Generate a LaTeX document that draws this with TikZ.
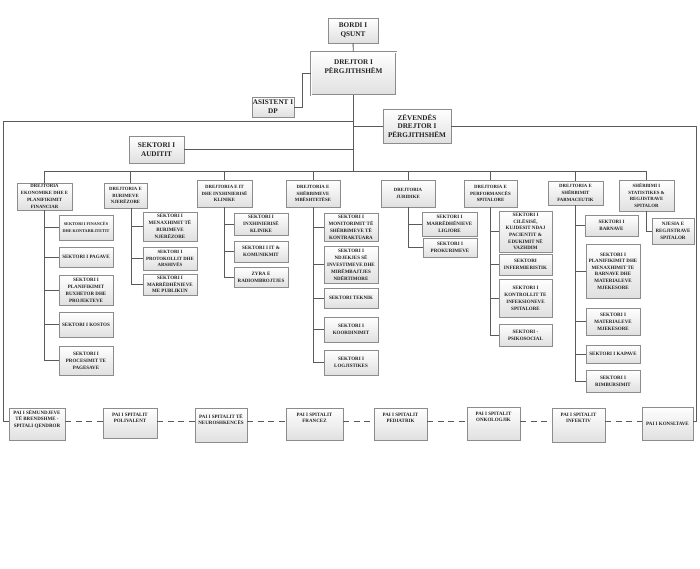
\documentclass[tikz,border=0pt]{standalone}
\usepackage{fontspec}
\setmainfont{Liberation Serif}
\usetikzlibrary{shadows}
\definecolor{linec}{HTML}{5A5A5A}
\definecolor{boxc}{HTML}{8C8C8C}
\definecolor{txtc}{HTML}{222222}
\definecolor{fillb}{HTML}{E0E0E0}
\newcommand{\obox}[7][]{\node[box,#1,minimum width={#5-#3},minimum height={#6-#4}] (#2) at ({(#3+#5)/2},{(#4+#6)/2}) {#7};}
\begin{document}
\begin{tikzpicture}[x=1pt,y=-1pt,
 box/.style={draw=boxc,line width=0.6pt,top color=white,bottom color=fillb,
   drop shadow={shadow xshift=0.9pt,shadow yshift=-0.9pt,opacity=0.3,fill=black},
   align=center,inner sep=0.3pt,text=txtc},
 topf/.style={font=\fontsize{7.2}{9}\selectfont\bfseries},
 dirf/.style={font=\fontsize{4.8}{6.8}\selectfont\bfseries},
 subf/.style={font=\fontsize{5}{7}\selectfont\bfseries},
 subt/.style={font=\fontsize{5}{6.6}\selectfont\bfseries},
 finf/.style={font=\fontsize{4.2}{6.8}\selectfont\bfseries},
 paif/.style={font=\fontsize{5}{6.4}\selectfont\bfseries},
 txtn/.style={align=center,inner sep=0pt,text=txtc},
 conn/.style={draw=linec,line width=0.9pt},
 dconn/.style={conn,dash pattern=on 6pt off 4.5pt},
 drejb/.style={double=white,double distance=0.9pt,line width=0.7pt,draw=boxc}
]
\useasboundingbox[fill=white] (0,0) rectangle (700,568);

% top
\obox[topf]{bordi}{328}{18}{378}{43}{BORDI I\\QSUNT}
\obox[drejb]{drej}{311}{52}{396}{95}{}
\node[txtn,topf,anchor=north] (drejt) at ([yshift=-7.5pt]drej.north) {DREJTOR I\\PËRGJITHSHËM};
\obox[topf]{asis}{252}{97}{294}{117}{ASISTENT I\\DP}
\obox[topf,font=\fontsize{7.2}{8.6}\selectfont\bfseries]{zev}{383}{109}{451}{143}{ZËVENDËS\\DREJTOR I\\PËRGJITHSHËM}
\obox[topf]{aud}{129}{136}{184}{163}{SEKTORI I\\AUDITIT}

% directorates
\obox[dirf]{eko}{17}{183}{72}{210}{DREJTORIA\\EKONOMIKE DHE E\\PLANIFIKIMIT\\FINANCIAR}
\obox[dirf]{bur}{104}{183}{147}{208}{DREJTORIA E\\BURIMEVE\\NJERËZORE}
\obox[dirf]{it}{197}{180}{252}{207}{DREJTORIA E IT\\DHE INXHINIERISË\\KLINIKE}
\obox[dirf]{mbe}{286}{180}{340}{207}{DREJTORIA E\\SHËRBIMEVE\\MBËSHTETËSE}
\obox[dirf]{jur}{381}{180}{435}{207}{DREJTORIA\\JURIDIKE}
\obox[dirf]{per}{464}{180}{517}{207}{DREJTORIA E\\PERFORMANCËS\\SPITALORE}
\obox[dirf]{far}{548}{181}{603}{205}{DREJTORIA E\\SHËRBIMIT\\FARMACEUTIK}
\obox[dirf]{sta}{619}{180}{674}{211}{SHËRBIMI I\\STATISTIKES \&\\REGJISTRAVE\\SPITALOR}

% sectors
\obox[finf]{e1}{59}{215}{113}{240}{SEKTORI I FINANCËS\\DHE KONTABILITETIT}
\obox[subf]{e2}{59}{247}{113}{267}{SEKTORI I PAGAVE}
\obox[subf]{e3}{59}{275}{113}{305}{SEKTORI I\\PLANIFIKIMIT\\BUXHETOR DHE\\PROJEKTEVE}
\obox[subf]{e4}{59}{312}{113}{337}{SEKTORI I KOSTOS}
\obox[subf]{e5}{59}{346}{113}{375}{SEKTORI I\\PROCESIMIT TE\\PAGESAVE}
\obox[subf]{b1}{143}{212}{197}{241}{SEKTORI I\\MENAXHIMIT TË\\BURIMEVE\\NJERËZORE}
\obox[subf,font=\fontsize{4.8}{6.8}\selectfont\bfseries]{b2}{143}{247}{197}{270}{SEKTORI I\\PROTOKOLLIT DHE\\ARSHIVËS}
\obox[subt]{b3}{143}{274}{197}{295}{SEKTORI I\\MARRËDHËNIEVE\\ME PUBLIKUN}
\obox[subf]{i1}{234}{213}{288}{235}{SEKTORI I\\INXHINIERISË\\KLINIKE}
\obox[subf]{i2}{234}{241}{288}{262}{SEKTORI I IT \&\\KOMUNIKMIT}
\obox[subf]{i3}{234}{267}{288}{287}{ZYRA E\\RADIOMBROJTJES}
\obox[subf]{m1}{324}{213}{378}{241}{SEKTORI I\\MONITORIMIT TË\\SHËRBIMEVE TË\\KONTRAKTUARA}
\obox[subf]{m2}{324}{246}{378}{283}{SEKTORI I\\NDJEKJES SË\\INVESTIMEVE DHE\\MIRËMBAJTJES\\NDËRTIMORE}
\obox[subf]{m3}{324}{288}{378}{308}{SEKTORI TEKNIK}
\obox[subf]{m4}{324}{317}{378}{342}{SEKTORI I\\KOORDINIMIT}
\obox[subf]{m5}{324}{350}{378}{375}{SEKTORI I\\LOGJISTIKES}
\obox[subf]{j1}{422}{212}{477}{236}{SEKTORI I\\MARRËDHËNIEVE\\LIGJORE}
\obox[subf]{j2}{423}{238}{477}{257}{SEKTORI I\\PROKURIMEVE}
\obox[subt]{p1}{499}{211}{552}{252}{SEKTORI I\\CILËSISË,\\KUJDESIT NDAJ\\PACIENTIT \&\\EDUKIMIT NË\\VAZHDIM}
\obox[subf]{p2}{499}{254}{552}{275}{SEKTORI\\INFERMIERISTIK}
\obox[subf]{p3}{499}{279}{552}{317}{SEKTORI I\\KONTROLLIT TE\\INFEKSIONEVE\\SPITALORE}
\obox[subf]{p4}{499}{324}{552}{346}{SEKTORI -\\PSIKOSOCIAL}
\obox[subf]{f1}{585}{215}{638}{236}{SEKTORI I\\BARNAVE}
\obox[subt]{f2}{586}{244}{640}{298}{SEKTORI I\\PLANIFIKIMIT DHE\\MENAXHIMIT TE\\BARNAVE DHE\\MATERIALEVE\\MJEKESORE}
\obox[subf]{f3}{586}{308}{640}{335}{SEKTORI I\\MATERIALEVE\\MJEKESORE}
\obox[subf]{f4}{586}{345}{640}{363}{SEKTORI I KAPAVE}
\obox[subf]{f5}{586}{370}{640}{392}{SEKTORI I\\RIMBURSIMIT}
\obox[subf]{n1}{652}{218}{694}{244}{NJESIA E\\REGJISTRAVE\\SPITALOR}

% hospitals
\obox{pa1}{9}{408}{65}{440}{}
\node[txtn,paif,anchor=north] (pa1t) at ([yshift=-2.5pt]pa1.north) {PAI I SËMUNDJEVE\\TË BRENDSHME -\\SPITALI QENDROR};
\obox{pa2}{103}{408}{157}{438}{}
\node[txtn,paif,anchor=north] (pa2t) at ([yshift=-5pt]pa2.north) {PAI I SPITALIT\\POLIVALENT};
\obox{pa3}{195}{408}{247}{442}{}
\node[txtn,paif,anchor=north] (pa3t) at ([yshift=-6pt]pa3.north) {PAI I SPITALIT TË\\NEUROSHKENCËS};
\obox{pa4}{286}{408}{343}{440}{}
\node[txtn,paif,anchor=north] (pa4t) at ([yshift=-5pt]pa4.north) {PAI I SPITALIT\\FRANCEZ};
\obox{pa5}{374}{408}{427}{440}{}
\node[txtn,paif,anchor=north] (pa5t) at ([yshift=-5pt]pa5.north) {PAI I SPITALIT\\PEDIATRIK};
\obox{pa6}{467}{407}{520}{440}{}
\node[txtn,paif,anchor=north] (pa6t) at ([yshift=-5pt]pa6.north) {PAI I SPITALIT\\ONKOLOGJIK};
\obox{pa7}{552}{408}{605}{442}{}
\node[txtn,paif,anchor=north] (pa7t) at ([yshift=-5pt]pa7.north) {PAI I SPITALIT\\INFEKTIV};
\obox[paif]{pa8}{642}{407}{693}{440}{PAI I KONSLTAVE}

% connectors
\coordinate (bus) at (353,171);
\coordinate (lt) at (3,121);
\coordinate (lb) at (3,421);
\coordinate (rt) at (696.5,126);
\coordinate (rb) at (696.5,421);
\draw[conn] (bordi) -- (drej);
\draw[conn] (asis.east) -- ++(8,0) |- (drej.west);
\draw[conn] (drej.south) -- (drej.south |- bus);
\draw[conn] (eko.north |- bus) -- (sta.north |- bus);
\foreach \d in {eko,it,mbe,jur,per,far,sta} \draw[conn] (\d.north |- bus) -- (\d.north);
\draw[conn] ([xshift=4.5pt]bur.north |- bus) -- ([xshift=4.5pt]bur.north);
\draw[conn,line join=round] (drej.south |- lt) -- (lt) -- (lb) -- (pa1.west |- lb);
\draw[conn] (aud.east) -- (aud.east -| drej.south);
\draw[conn] (zev.west -| drej.south) -- (zev.west);
\draw[conn,line join=round] (zev.east) -- (rt) -- (rb) -- (pa8.east |- rb);
\foreach \s in {e1,e2,e3,e4,e5} \draw[conn] (eko.south) |- (\s.west);
\foreach \s in {b1,b2,b3} \draw[conn] ([xshift=5.5pt]bur.south) |- (\s.west);
\foreach \s in {i1,i2,i3} \draw[conn] (it.south) |- (\s.west);
\foreach \s in {m1,m2,m3,m4,m5} \draw[conn] (mbe.south) |- (\s.west);
\foreach \s in {j1,j2} \draw[conn] (jur.south) |- (\s.west);
\foreach \s in {p1,p2,p3,p4} \draw[conn] (per.south) |- (\s.west);
\foreach \s in {f1,f2,f3,f4,f5} \draw[conn] (far.south) |- (\s.west);
\draw[conn] (sta.south) |- (n1.west);
\foreach \a/\b in {pa1/pa2,pa2/pa3,pa3/pa4,pa4/pa5,pa5/pa6,pa6/pa7,pa7/pa8}
  \draw[dconn] (\a.east |- lb) -- (\b.west |- lb);
\end{tikzpicture}
\end{document}
